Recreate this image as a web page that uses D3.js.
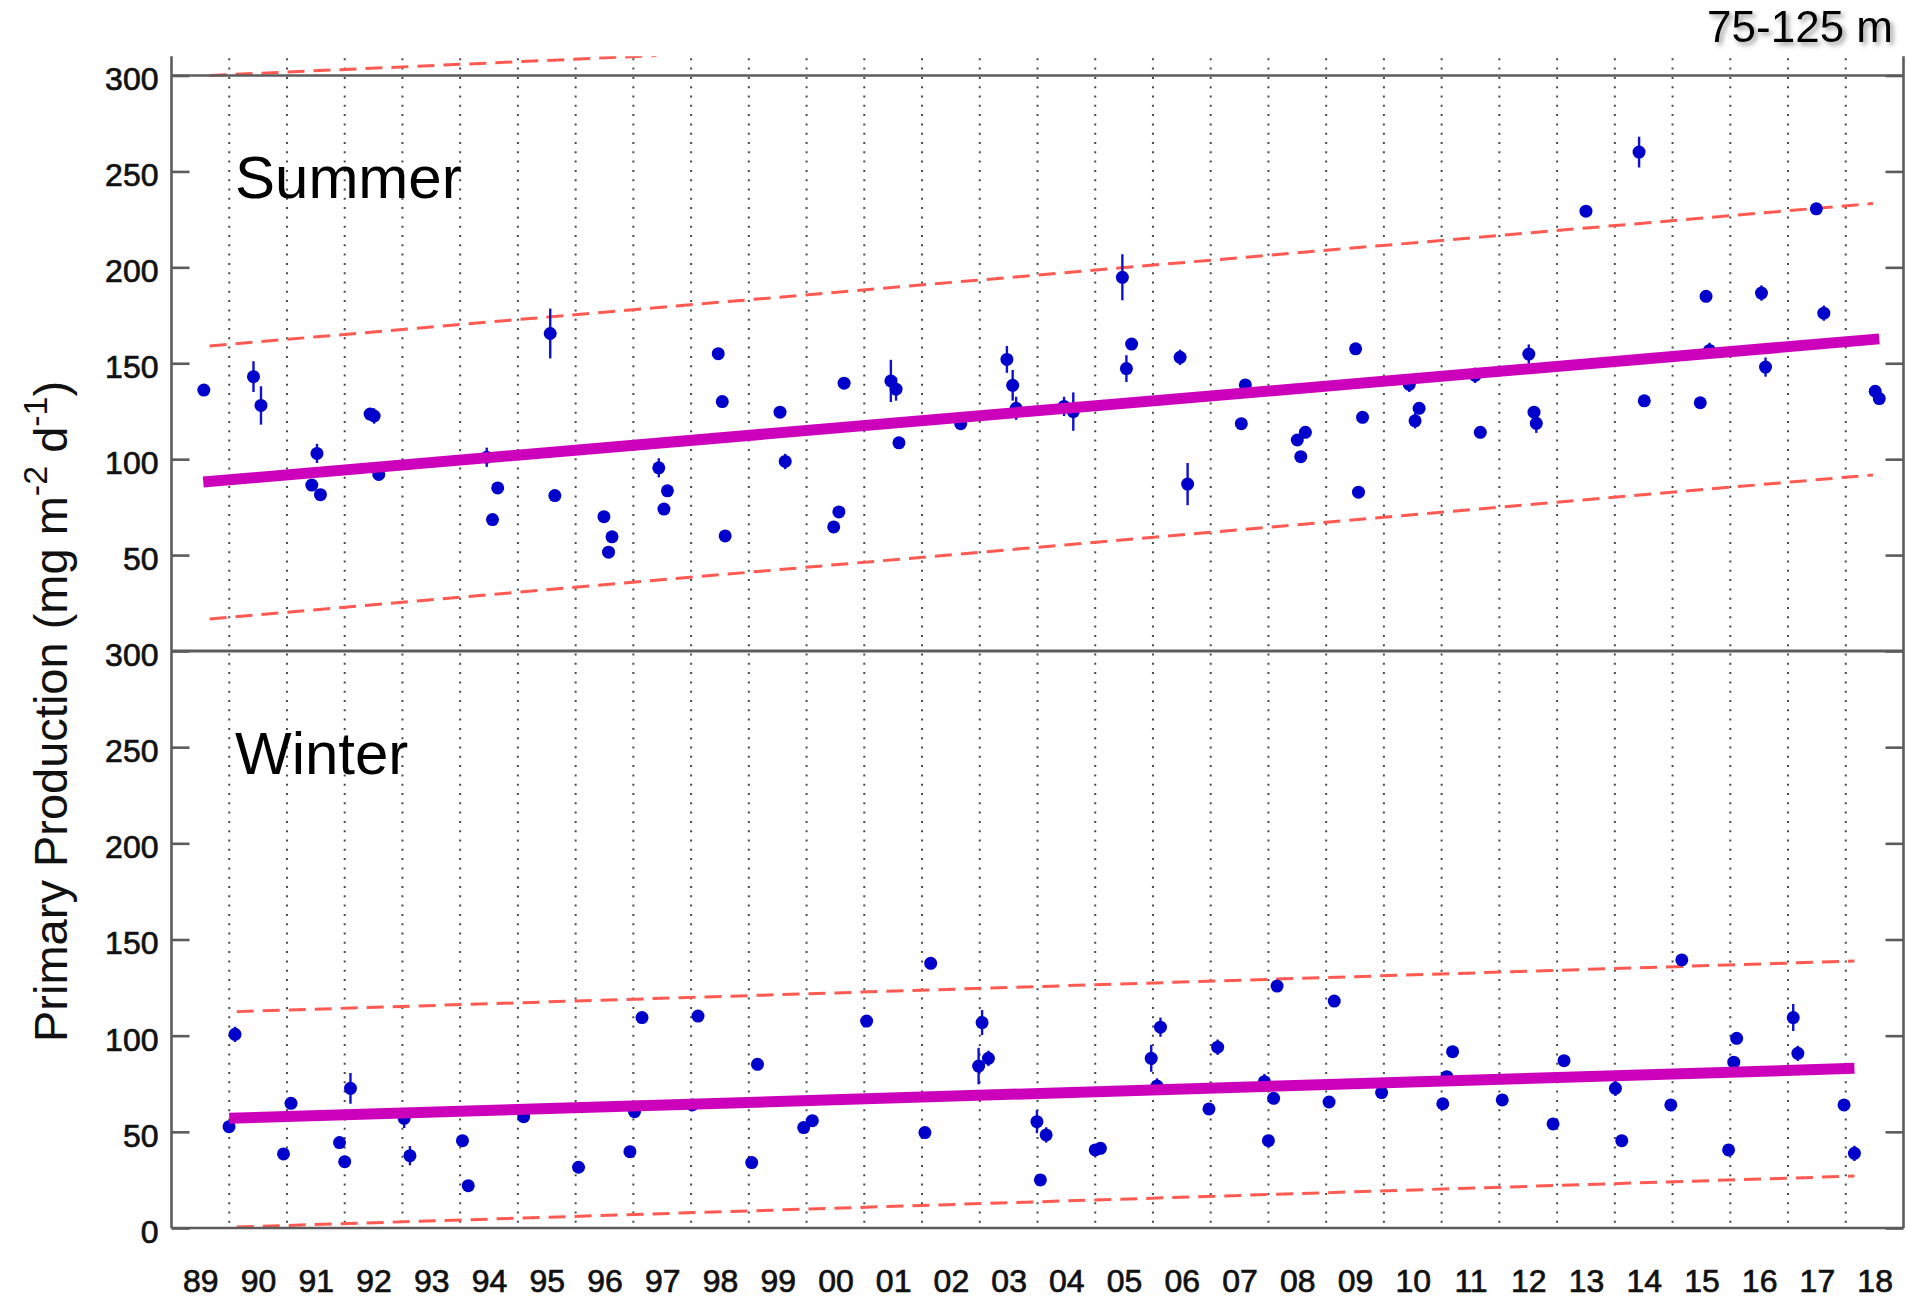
<!DOCTYPE html>
<html>
<head>
<meta charset="utf-8">
<script src="https://cdn.jsdelivr.net/npm/d3@7"></script>
<style>
body { margin: 0; background: #fff; }
text { font-family: "Liberation Sans", Arial, sans-serif; }
</style>
</head>
<body>
<div id="chart"></div>
<script>
// values

var yearLabels = ['89','90','91','92','93','94','95','96','97','98','99','00','01','02','03',
                  '04','05','06','07','08','09','10','11','12','13','14','15','16','17','18'];
var yTickValues = [0, 50, 100, 150, 200, 250, 300];

// summer: [decimal year, value, error]
var summerPoints = [
  [1989.56, 136, 3], [1990.42, 143, 8], [1990.55, 128, 10], [1991.43, 86.5, 3], [1991.52, 103, 5],
  [1991.58, 81.5, 3], [1992.44, 123.5, 3], [1992.51, 122.5, 4], [1992.59, 92, 3], [1994.46, 101, 5],
  [1994.56, 68.5, 3], [1994.65, 85, 3], [1995.56, 165.5, 13], [1995.64, 81, 3], [1996.49, 70, 3],
  [1996.57, 51.5, 3], [1996.63, 59.5, 3], [1997.44, 95.5, 5], [1997.53, 74, 3], [1997.59, 83.5, 3],
  [1998.47, 155, 3], [1998.54, 130, 3], [1998.59, 60, 3], [1999.54, 124.5, 3], [1999.63, 98.8, 4],
  [2000.47, 64.7, 3], [2000.56, 72.5, 3], [2000.65, 139.6, 3], [2001.46, 140.8, 11], [2001.55, 136.5, 6],
  [2001.6, 108.5, 3], [2002.67, 118.5, 3], [2003.47, 152, 7], [2003.57, 138.5, 8], [2003.63, 126.5, 6],
  [2004.46, 127.5, 5], [2004.62, 124.8, 10], [2005.47, 194.8, 12], [2005.54, 147.2, 7], [2005.63, 160, 3],
  [2006.47, 153.1, 4], [2006.6, 87, 11], [2007.53, 118.5, 3], [2007.6, 138.7, 3], [2008.5, 110, 3],
  [2008.56, 101.3, 3], [2008.64, 114, 3], [2009.51, 157.5, 3], [2009.56, 82.8, 3], [2009.63, 121.8, 3],
  [2010.44, 139, 4], [2010.54, 120, 4], [2010.61, 126.5, 3], [2011.58, 143.7, 4], [2011.67, 114, 3],
  [2012.51, 154.8, 5], [2012.6, 124.5, 3], [2012.64, 118.7, 5], [2013.5, 229.3, 3], [2014.42, 260.1, 8],
  [2014.51, 130.4, 3], [2015.48, 129.4, 3], [2015.58, 184.9, 3], [2015.64, 156.7, 4], [2016.54, 186.6, 4],
  [2016.61, 148, 5], [2017.49, 230.5, 3], [2017.62, 176.1, 4], [2018.51, 135.4, 3], [2018.58, 131.6, 3]
];

// winter: [decimal year, value, error]
var winterPoints = [
  [1989.997, 52.7, 3], [1990.1, 100.7, 4], [1990.94, 38.5, 3], [1991.07, 64.8, 3], [1991.91, 44.4, 3],
  [1992.0, 34.5, 3], [1992.1, 72.6, 8], [1993.03, 57, 5], [1993.13, 37.6, 5], [1994.04, 45.4, 3],
  [1994.14, 22, 3], [1995.1, 57.9, 3], [1996.05, 31.6, 3], [1996.94, 39.7, 3], [1997.02, 60.5, 3],
  [1997.15, 109.4, 3], [1998.02, 64, 3], [1998.12, 110.2, 3], [1999.05, 34, 3], [1999.15, 85.1, 3],
  [1999.95, 52.2, 3], [2000.1, 55.8, 3], [2001.04, 107.6, 3], [2002.05, 49.6, 3], [2002.15, 137.6, 3],
  [2002.98, 84.2, 9.5], [2003.04, 106.8, 6.5], [2003.15, 88.2, 4], [2003.99, 55.3, 6], [2004.05, 25, 3],
  [2004.15, 48.4, 4], [2005.0, 40.6, 3], [2005.09, 41.4, 3], [2005.97, 88.2, 7], [2006.07, 73.8, 4],
  [2006.13, 104.4, 5], [2006.97, 61.9, 3], [2007.12, 94, 4], [2007.93, 76.1, 4], [2008.0, 45.4, 3],
  [2008.09, 67.4, 3], [2008.15, 125.8, 3], [2009.05, 65.5, 3], [2009.14, 118, 3], [2009.96, 70.4, 3],
  [2011.02, 64.6, 3], [2011.09, 78.7, 3], [2011.19, 91.7, 3], [2012.05, 66.6, 3], [2012.93, 54.1, 3],
  [2013.12, 87, 3], [2014.01, 72.6, 4], [2014.12, 45.4, 3], [2014.97, 64, 3], [2015.16, 139.4, 3],
  [2015.97, 40.6, 3], [2016.06, 86.2, 3], [2016.11, 98.6, 3], [2017.09, 109.4, 7], [2017.17, 90.8, 4],
  [2017.97, 64, 3], [2018.15, 38.8, 4]
];

// trend lines and bands, end points [year, value]
var summerFit   = [[1989.55, 88.1], [2018.58, 162.7]];
var summerUpper = [[1989.66, 159.0], [2018.47, 233.3]];
var summerLower = [[1989.66, 16.7], [2018.47, 91.8]];
var strayLine   = [[1989.66, 300], [1997.4, 310.4]];
var winterFit   = [[1990.0, 57], [2018.15, 83]];
var winterUpper = [[1990.13, 112.5], [2018.15, 138.8]];
var winterLower = [[1990.13, 0.5], [2018.15, 27]];


var width = 1907, height = 1304;
var left = 171.5, right = 1903.5;
var axisColor = '#5c5c5c';
var dashColor = '#ff5a52';

var svg = d3.select('#chart').append('svg')
  .attr('width', width)
  .attr('height', height);

var x = d3.scaleLinear().domain([1989, 2019]).range([left, right]);
var yTop = d3.scaleLinear().domain([0, 300]).range([651, 75.5]);
var yBot = d3.scaleLinear().domain([0, 300]).range([1228, 651]);
var topEdge = yTop(310);

var defs = svg.append('defs');
defs.append('clipPath').attr('id', 'clip-top').append('rect')
  .attr('x', left).attr('y', topEdge).attr('width', right - left).attr('height', 651 - topEdge);
defs.append('clipPath').attr('id', 'clip-bot').append('rect')
  .attr('x', left).attr('y', 651).attr('width', right - left).attr('height', 1228 - 651);
var shadow = defs.append('filter').attr('id', 'shadow')
  .attr('x', '-10%').attr('y', '-30%').attr('width', '130%').attr('height', '170%');
shadow.append('feDropShadow')
  .attr('dx', 3).attr('dy', 3).attr('stdDeviation', 2.5)
  .attr('flood-color', '#777').attr('flood-opacity', 0.75);

// dotted year grid
svg.append('g')
  .selectAll('line')
  .data(yearLabels.slice(1))
  .enter().append('line')
    .attr('x1', function(d, i) { return x(1990 + i); })
    .attr('x2', function(d, i) { return x(1990 + i); })
    .attr('y1', topEdge + 2)
    .attr('y2', 1224)
    .attr('stroke', '#4a4a4a')
    .attr('stroke-width', 2)
    .attr('stroke-dasharray', '2,7.3');

function drawPanel(y, points, fit, upper, lower, clipId) {
  var g = svg.append('g').attr('clip-path', 'url(#' + clipId + ')');
  var line = d3.line()
    .x(function(d) { return x(d[0]); })
    .y(function(d) { return y(d[1]); });

  g.selectAll('.band')
    .data([upper, lower])
    .enter().append('path')
      .attr('class', 'band')
      .attr('d', line)
      .attr('fill', 'none')
      .attr('stroke', dashColor)
      .attr('stroke-width', 3)
      .attr('stroke-dasharray', '17,9');

  g.selectAll('.err')
    .data(points)
    .enter().append('line')
      .attr('class', 'err')
      .attr('x1', function(d) { return x(d[0]); })
      .attr('x2', function(d) { return x(d[0]); })
      .attr('y1', function(d) { return y(d[1] + d[2]); })
      .attr('y2', function(d) { return y(d[1] - d[2]); })
      .attr('stroke', '#1010d0')
      .attr('stroke-width', 2.4);

  g.selectAll('.dot')
    .data(points)
    .enter().append('circle')
      .attr('class', 'dot')
      .attr('cx', function(d) { return x(d[0]); })
      .attr('cy', function(d) { return y(d[1]); })
      .attr('r', 6.5)
      .attr('fill', '#0000cc');

  g.append('path')
    .datum(fit)
    .attr('d', line)
    .attr('fill', 'none')
    .attr('stroke', '#cc00bb')
    .attr('stroke-width', 11);

  return g;
}

drawPanel(yTop, summerPoints, summerFit, summerUpper, summerLower, 'clip-top');
drawPanel(yBot, winterPoints, winterFit, winterUpper, winterLower, 'clip-bot');

// stray dashed line at the top of the summer panel
svg.append('path')
  .datum(strayLine)
  .attr('clip-path', 'url(#clip-top)')
  .attr('d', d3.line().x(function(d) { return x(d[0]); }).y(function(d) { return yTop(d[1]); }))
  .attr('fill', 'none')
  .attr('stroke', dashColor)
  .attr('stroke-width', 3)
  .attr('stroke-dasharray', '17,9');

// frame
var frame = svg.append('g')
  .attr('stroke', axisColor)
  .attr('stroke-width', 2.6);
frame.append('line').attr('x1', left).attr('x2', left).attr('y1', topEdge).attr('y2', 1228);
frame.append('line').attr('x1', right).attr('x2', right).attr('y1', topEdge).attr('y2', 1228);
frame.append('line').attr('x1', left).attr('x2', right).attr('y1', yTop(300)).attr('y2', yTop(300));
frame.append('line').attr('x1', left).attr('x2', right).attr('y1', 651).attr('y2', 651).attr('stroke-width', 3.2);
frame.append('line').attr('x1', left).attr('x2', right).attr('y1', 1228).attr('y2', 1228);

// y axes, ticks pointing inward
function yAxes(y, values) {
  var gl = svg.append('g')
    .attr('class', 'axis')
    .attr('transform', 'translate(' + left + ',0)')
    .call(d3.axisLeft(y).tickValues(values).tickSize(-18).tickPadding(13));
  var gr = svg.append('g')
    .attr('class', 'axis')
    .attr('transform', 'translate(' + right + ',0)')
    .call(d3.axisRight(y).tickValues(values).tickSize(-18).tickFormat(''));
  [gl, gr].forEach(function(g) {
    g.select('.domain').remove();
    g.selectAll('.tick line').attr('stroke', axisColor).attr('stroke-width', 2.6);
  });
  gl.selectAll('.tick text')
    .attr('dy', '0.45em')
    .attr('font-size', 32)
    .attr('font-family', '"Liberation Sans", Arial, sans-serif')
    .attr('fill', '#111')
    .attr('stroke', '#111')
    .attr('stroke-width', 0.7);
}
yAxes(yTop, yTickValues.slice(1));
yAxes(yBot, yTickValues);

// year labels
var xAxis = svg.append('g')
  .attr('transform', 'translate(0,1228)')
  .call(d3.axisBottom(x)
    .tickValues(yearLabels.map(function(d, i) { return 1989.5 + i; }))
    .tickSize(0)
    .tickPadding(41)
    .tickFormat(function(d, i) { return yearLabels[i]; }));
xAxis.select('.domain').remove();
xAxis.selectAll('.tick text')
  .attr('font-size', 32)
  .attr('font-family', '"Liberation Sans", Arial, sans-serif')
  .attr('fill', '#111')
  .attr('stroke', '#111')
  .attr('stroke-width', 0.7);

// panel names
svg.append('text')
  .attr('x', x(1990.1)).attr('y', 198)
  .attr('font-size', 60).attr('fill', '#000')
  .text('Summer');
svg.append('text')
  .attr('x', x(1990.1)).attr('y', 774)
  .attr('font-size', 60).attr('fill', '#000')
  .text('Winter');

// depth label
svg.append('text')
  .attr('x', 1893).attr('y', 42)
  .attr('text-anchor', 'end')
  .attr('font-size', 44)
  .attr('fill', '#000')
  .attr('filter', 'url(#shadow)')
  .text('75-125 m');

// y label
var ylab = svg.append('text')
  .attr('transform', 'translate(67,1042) rotate(-90)')
  .attr('font-size', 47)
  .attr('fill', '#111');
ylab.append('tspan').text('Primary Production (mg m');
ylab.append('tspan').attr('font-size', 34).attr('dy', -20).text('-2');
ylab.append('tspan').attr('font-size', 47).attr('dy', 20).text(' d');
ylab.append('tspan').attr('font-size', 34).attr('dy', -20).text('-1');
ylab.append('tspan').attr('font-size', 47).attr('dy', 20).text(')');
</script>
</body>
</html>
